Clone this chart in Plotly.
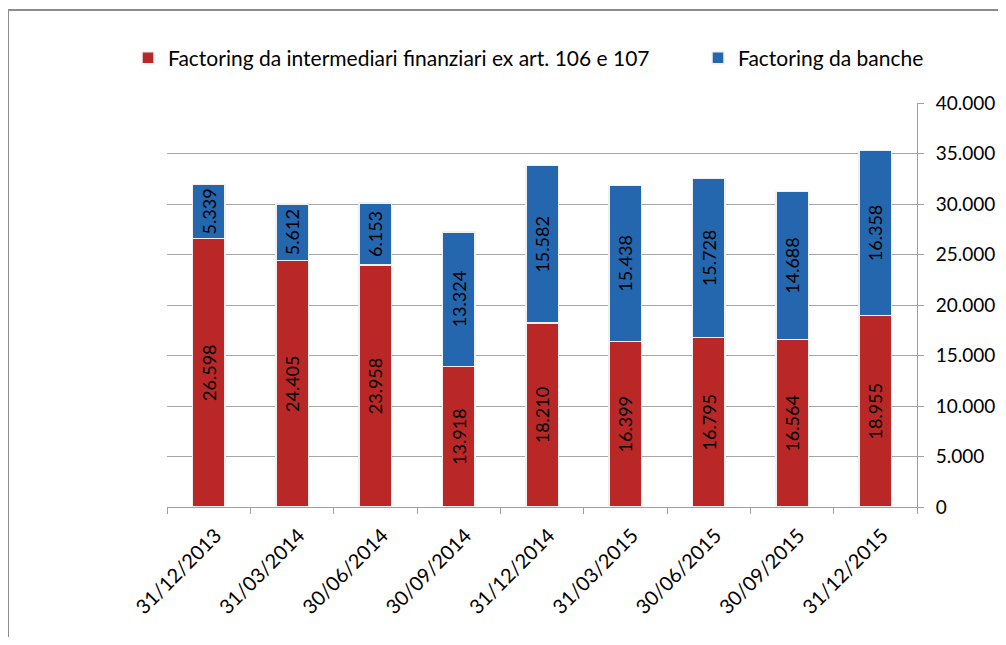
import plotly.graph_objects as go

categories = ["31/12/2013", "31/03/2014", "30/06/2014", "30/09/2014", "31/12/2014",
              "31/03/2015", "30/06/2015", "30/09/2015", "31/12/2015"]
intermediari = [26598, 24405, 23958, 13918, 18210, 16399, 16795, 16564, 18955]
banche = [5339, 5612, 6153, 13324, 15582, 15438, 15728, 14688, 16358]
series_names = ["Factoring da intermediari finanziari ex art. 106 e 107", "Factoring da banche"]
y_ticks = [0, 5000, 10000, 15000, 20000, 25000, 30000, 35000, 40000]

OFF = 8  # page body margin
W, H = 990, 629
# plot area on screen: x 167..917, y 103..507
L, T = 167 - OFF, 103 - OFF
pw, ph = 750, 404
R, B = W - L - pw, H - T - ph

def fmt(v):
    return f"{v:,}".replace(",", ".")

FONT = "Lato, Carlito, 'DejaVu Sans Condensed', sans-serif"

def px_x(screen_px):
    return (screen_px - OFF - L) / pw

def px_y(screen_px):
    return (T + ph - (screen_px - OFF)) / ph

fig = go.Figure()
fig.add_trace(go.Bar(
    x=categories, y=intermediari, name=series_names[0], legend="legend",
    marker=dict(color="#ba2727", line=dict(color="#f0f0f0", width=1.5)),
    text=[fmt(v) for v in intermediari], textposition="inside",
    insidetextanchor="middle", textangle=-90, constraintext="none",
    textfont=dict(family=FONT, size=18, color="#000000"),
))
fig.add_trace(go.Bar(
    x=categories, y=banche, name=series_names[1], legend="legend2",
    marker=dict(color="#2467af", line=dict(color="#f0f0f0", width=1.5)),
    text=[fmt(v) for v in banche], textposition="inside",
    insidetextanchor="middle", textangle=-90, constraintext="none",
    textfont=dict(family=FONT, size=18, color="#000000"),
))

legend_common = dict(orientation="h", yanchor="middle", xanchor="left",
                     font=dict(family=FONT, size=21, color="#000000"),
                     bgcolor="rgba(0,0,0,0)", visible=True)

fig.update_layout(
    width=W, height=H,
    showlegend=True,
    barmode="stack", bargap=0.61,
    separators=",.",
    paper_bgcolor="white", plot_bgcolor="white",
    margin=dict(l=L, r=R, t=T, b=B, autoexpand=False),
    font=dict(family=FONT, size=20, color="#000000"),
    legend=dict(x=px_x(128), y=px_y(58), **legend_common),
    legend2=dict(x=px_x(698), y=px_y(58), **legend_common),
    xaxis=dict(tickangle=-45, showline=True, linecolor="#a0a0a0", linewidth=1,
               ticks="outside", ticklen=6, tickcolor="#a0a0a0", tickson="boundaries",
               ticklabelstandoff=8, ticklabelshift=7,
               showgrid=False, tickfont=dict(family=FONT, size=20)),
    yaxis=dict(side="right", range=[0, 40000], tickvals=y_ticks, tickformat=",d",
               showgrid=True, gridcolor="#a6a6a6", gridwidth=1,
               showline=True, linecolor="#a0a0a0", linewidth=1,
               ticks="outside", ticklen=6, tickcolor="#a0a0a0",
               ticklabelstandoff=8,
               tickfont=dict(family=FONT, size=19), zeroline=False),
    shapes=[
        dict(type="line", xref="paper", yref="paper", x0=px_x(8), x1=px_x(8),
             y0=px_y(10), y1=px_y(645), line=dict(color="#8c8c8c", width=2)),
        dict(type="line", xref="paper", yref="paper", x0=px_x(8), x1=px_x(1006),
             y0=px_y(10), y1=px_y(10), line=dict(color="#8c8c8c", width=2)),
    ],
)

fig.write_html("out.html")
